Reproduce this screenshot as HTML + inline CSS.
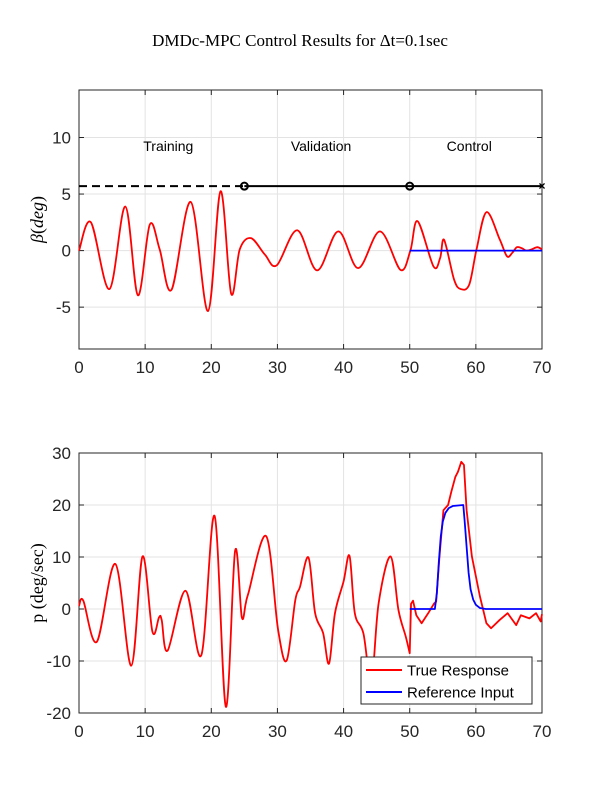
<!DOCTYPE html>
<html><head><meta charset="utf-8"><style>
body{margin:0;background:#fff;}
svg text{font-family:"Liberation Sans",sans-serif;fill:#262626;}
</style></head><body>
<svg id="c" width="600" height="800" xmlns="http://www.w3.org/2000/svg">
<rect width="600" height="800" fill="#fff"/>
<text x="300" y="46" text-anchor="middle" style="font-family:'Liberation Serif',serif;font-size:17px;fill:#000">DMDc-MPC Control Results for Δt=0.1sec</text>
<g id="ax1"></g>
<g id="ax2"></g>
</svg>
<script>
// ---- data: top plot (sideslip beta, deg) ----
const betaT = [0,1.8,4.6,7.0,8.9,10.7,12.2,14.0,16.9,19.5,21.4,23.0,24.3,26.0,28.1,29.9,33.0,36.0,39.2,42.2,45.5,48.6,50.1,51.2,53.6,54.6,55.2,56.7,57.7,59.0,60.1,61.6,63.6,64.7,65.5,66.2,67.0,67.6,68.4,69.3,70];
const betaV = [0,2.5,-3.4,3.9,-3.95,2.3,0.1,-3.45,4.3,-5.35,5.25,-3.8,0.1,1.1,-0.35,-1.3,1.8,-1.75,1.7,-1.55,1.7,-1.7,0,2.6,-1.4,-0.65,0.95,-2.55,-3.4,-3.0,0.1,3.4,1.0,-0.5,-0.2,0.3,0.2,0,0.1,0.3,0.1];
const betaRefT = [50,70];
const betaRefV = [0,0];
const phaseT = [0,25,50,70];
const phaseY = 5.7;
const phaseLabels = ["Training","Validation","Control"];
const phaseLabelT = [13.5,36.6,59.0];
const beta1Ticks = [-5,0,5,10];
const xTicks = [0,10,20,30,40,50,60,70];
// ---- data: bottom plot (roll rate p, deg/sec) ----
const pT = [0,0.65,2.7,5.5,7.9,9.6,11.1,12.1,12.5,13.4,16.1,18.5,20.5,22.2,23.6,24.6,25.2,25.6,28.3,30.1,31.4,32.7,33.4,34.7,35.7,36.9,37.8,38.7,40.0,40.9,41.7,43.0,44.2,45.3,47.1,48.3,49.4,50.0,50.2,50.5,51.0,51.8,52.8,53.7,54.0,54.5,55.1,55.8,56.3,56.9,57.3,57.8,58.2,58.6,59.4,60.6,61.6,62.3,63.6,64.8,66.1,66.8,68.1,69.1,69.8,70];
const pV = [0.6,1.6,-6.3,8.65,-10.9,10.1,-4.35,-1.6,-2.1,-8.0,3.5,-8.85,17.9,-18.8,11.2,-1.5,1.0,3.0,14.0,-4.0,-9.9,1.7,4.2,9.9,-0.8,-4.6,-10.5,-0.8,5.3,10.2,-0.8,-4.7,-14,1.1,10.1,-0.2,-5.3,-8.5,1.0,1.6,-1.2,-2.75,-0.8,1.1,1.4,10.1,19.0,20,22.6,25.4,26.4,28.3,27.7,19.0,10.1,2.5,-2.75,-3.7,-2.1,-0.8,-3.1,-1.2,-1.8,-0.8,-2.4,-1.0];
const refT = [50,53.8,54.1,54.4,54.7,55.0,55.4,55.9,56.5,58.1,58.3,58.6,58.9,59.2,59.6,60.0,60.6,61.5,70];
const refV = [0,0,3,9,14,16.8,18.5,19.4,19.8,20,17,12,7,3.8,1.8,0.8,0.2,0,0];
const pTicks = [-20,-10,0,10,20,30];
const legendLabels = ["True Response","Reference Input"];

const NS="http://www.w3.org/2000/svg";
function mk(parent,tag,attrs){const e=document.createElementNS(NS,tag);for(const k in attrs)e.setAttribute(k,attrs[k]);parent.appendChild(e);return e;}
function smoothPath(pts){let d="M"+pts[0][0]+","+pts[0][1];for(let i=0;i<pts.length-1;i++){const p0=pts[Math.max(0,i-1)],p1=pts[i],p2=pts[i+1],p3=pts[Math.min(pts.length-1,i+2)];const c1=[p1[0]+(p2[0]-p0[0])/6,p1[1]+(p2[1]-p0[1])/6],c2=[p2[0]-(p3[0]-p1[0])/6,p2[1]-(p3[1]-p1[1])/6];d+=" C"+c1+" "+c2+" "+p2;}return d;}
function linPath(pts){return "M"+pts.map(p=>p.join(",")).join(" L");}

function axes(g,top,bottom,ymin,ymax,yticks,ylabel){
  const L=79,R=542;
  const sx=t=>L+(t-0)/(70-0)*(R-L);
  const sy=v=>bottom-(v-ymin)/(ymax-ymin)*(bottom-top);
  xTicks.forEach(t=>{const l=mk(g,"line",{x1:sx(t),x2:sx(t),y1:top,y2:bottom,stroke:"#e3e3e3","stroke-width":1});
    
    
    const tx=mk(g,"text",{x:sx(t),y:bottom+24,"text-anchor":"middle","font-size":"17"});tx.textContent=t;
    
    
    mk(g,"line",{x1:sx(t),x2:sx(t),y1:bottom,y2:bottom-5,stroke:"#262626"});
    mk(g,"line",{x1:sx(t),x2:sx(t),y1:top,y2:top+5,stroke:"#262626"});});
  yticks.forEach(v=>{const l=mk(g,"line",{x1:L,x2:R,y1:sy(v),y2:sy(v),stroke:"#e3e3e3","stroke-width":1});
    
    
    const tx=mk(g,"text",{x:L-8,y:sy(v)+6,"text-anchor":"end","font-size":"17"});tx.textContent=v;
    
    
    mk(g,"line",{x1:L,x2:L+5,y1:sy(v),y2:sy(v),stroke:"#262626"});
    mk(g,"line",{x1:R,x2:R-5,y1:sy(v),y2:sy(v),stroke:"#262626"});});
  const box=mk(g,"rect",{x:L,y:top,width:R-L,height:bottom-top,fill:"none",stroke:"#262626","stroke-width":1});
  
  
  const yl=mk(g,"text",{transform:`translate(43,${(top+bottom)/2}) rotate(-90)`,"text-anchor":"middle",style:"font-family:'Liberation Serif',serif;font-size:18px;fill:#000"});
  yl.innerHTML=ylabel;
  
  
  return {sx,sy};
}

// top plot
const g1=document.getElementById("ax1");
const a1=axes(g1,90,349,-8.7,14.2,beta1Ticks,'<tspan font-style="italic">β</tspan>(<tspan font-style="italic">deg</tspan>)');
const dash=mk(g1,"line",{x1:a1.sx(phaseT[0]),x2:a1.sx(phaseT[1]),y1:a1.sy(phaseY),y2:a1.sy(phaseY),stroke:"#000","stroke-width":2,"stroke-dasharray":"8,5"});


const sol=mk(g1,"line",{x1:a1.sx(phaseT[1]),x2:a1.sx(phaseT[3]),y1:a1.sy(phaseY),y2:a1.sy(phaseY),stroke:"#000","stroke-width":2});


[phaseT[1],phaseT[2]].forEach(t=>{const c=mk(g1,"circle",{cx:a1.sx(t),cy:a1.sy(phaseY),r:3.5,fill:"none",stroke:"#000","stroke-width":2});
  
  });
const xm=mk(g1,"text",{x:a1.sx(phaseT[3]),y:a1.sy(phaseY)+4,"text-anchor":"middle","font-size":"12",style:"fill:#000;font-weight:bold"});xm.textContent="×";


phaseLabels.forEach((s,i)=>{const tx=mk(g1,"text",{x:a1.sx(phaseLabelT[i]),y:151,"text-anchor":"middle","font-size":"14",style:"fill:#000"});tx.textContent=s;
  
  });
const bp=mk(g1,"path",{d:smoothPath(betaT.map((t,i)=>[a1.sx(t),a1.sy(betaV[i])])),fill:"none",stroke:"#ff0000","stroke-width":1.8});


const br=mk(g1,"path",{d:linPath(betaRefT.map((t,i)=>[a1.sx(t),a1.sy(betaRefV[i])])),fill:"none",stroke:"#0000ff","stroke-width":1.8});



// bottom plot
const g2=document.getElementById("ax2");
const a2=axes(g2,453,713,-20,30,pTicks,'p (deg/sec)');
const pPts=pT.map((t,i)=>[a2.sx(t),a2.sy(pV[i])]);
const split=pT.indexOf(50.0);
const pd=smoothPath(pPts.slice(0,split+1))+" L"+pPts.slice(split+1).map(p=>p.join(",")).join(" L");
const pp=mk(g2,"path",{d:pd,fill:"none",stroke:"#ff0000","stroke-width":1.8,"stroke-linejoin":"round"});


const rp=mk(g2,"path",{d:linPath(refT.map((t,i)=>[a2.sx(t),a2.sy(refV[i])])),fill:"none",stroke:"#0000ff","stroke-width":1.8,"stroke-linejoin":"round"});


// legend
const lg=mk(g2,"g",{});


mk(lg,"rect",{x:361,y:657,width:171,height:47,fill:"#fff",stroke:"#262626","stroke-width":1});
["#ff0000","#0000ff"].forEach((col,i)=>{const y=670+i*22;
  const e=mk(lg,"g",{});
  
  
  mk(e,"line",{x1:366,x2:402,y1:y,y2:y,stroke:col,"stroke-width":2});
  const tx=mk(e,"text",{x:407,y:y+5.5,"font-size":"15",style:"fill:#000"});tx.textContent=legendLabels[i];});
</script>
</body></html>
